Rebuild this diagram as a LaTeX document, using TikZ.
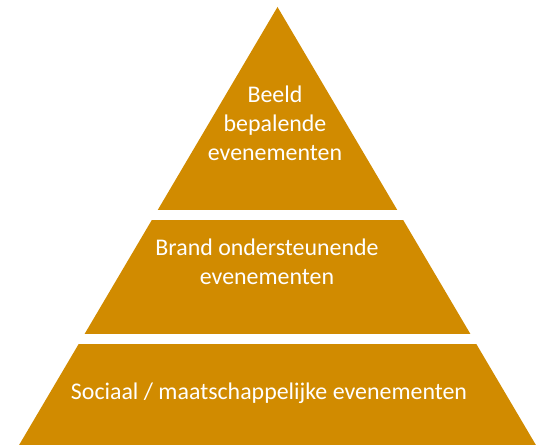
\documentclass[tikz,border=0pt]{standalone}
\usepackage{fontspec}
\setmainfont{Carlito}
\usepackage{tikz}
\definecolor{pyramidgold}{RGB}{209,139,0}
\tikzset{
    layertext/.style={text=white, align=center, font=\fontsize{17}{20.5}\selectfont, inner sep=0pt}
}

\begin{document}
\begin{tikzpicture}
        \useasboundingbox (0,0) rectangle (13.5,11.125);
        \begin{scope}
            \clip (6.9375,10.95) -- (0.4775,0) -- (13.3975,0) -- cycle;
            \fill[pyramidgold] (0,5.875) rectangle (13.5,11.125);
            \fill[pyramidgold] (0,2.775) rectangle (13.5,5.625);
            \fill[pyramidgold] (0,0) rectangle (13.5,2.525);
        \end{scope}
        \node[layertext] (top) at (6.875,8.05) {Beeld\\bepalende\\evenementen};
        \node[layertext] (middle) at (6.675,4.575) {Brand ondersteunende\\evenementen};
        \node[layertext] (bottom) at (6.725,1.3) {Sociaal / maatschappelijke evenementen};
    \end{tikzpicture}
\end{document}
